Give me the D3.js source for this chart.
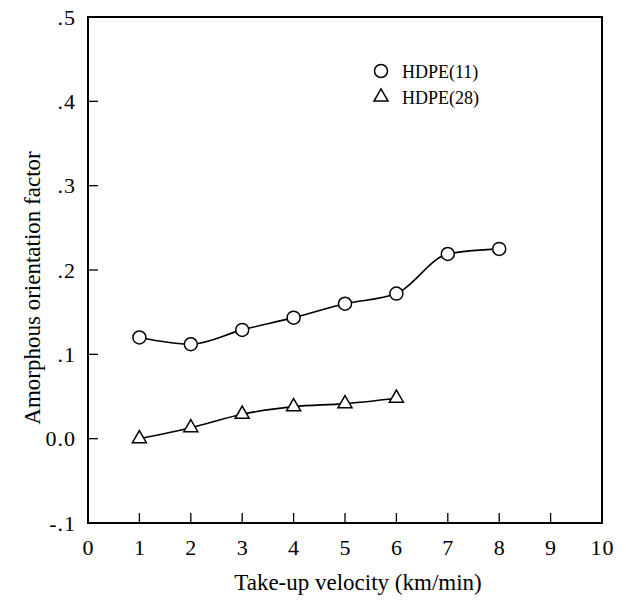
<!DOCTYPE html>
<html>
<head>
<meta charset="utf-8">
<script src="https://cdn.jsdelivr.net/npm/d3@7"></script>
<style>
  body { margin: 0; background: #fff; }
  svg text { font-family: "Liberation Serif", "DejaVu Serif", serif; fill: #000; }
</style>
</head>
<body>
<div id="chart"></div>
<script>
var velocity11 = [1, 2, 3, 4, 5, 6, 7, 8];
var factor11 = [0.120, 0.112, 0.129, 0.1435, 0.160, 0.172, 0.219, 0.225];
var velocity28 = [1, 2, 3, 4, 5, 6];
var factor28 = [0.000, 0.013, 0.029, 0.038, 0.0415, 0.048];
var xTicks = [0, 1, 2, 3, 4, 5, 6, 7, 8, 9, 10];
var yTicks = [-0.1, 0.0, 0.1, 0.2, 0.3, 0.4, 0.5];
var yTickLabels = ["-.1", "0.0", ".1", ".2", ".3", ".4", ".5"];

(function() {
var width = 626, height = 601;
var plotLeft = 88, plotRight = 602, plotTop = 17, plotBottom = 523;

var svg = d3.select("#chart").append("svg")
    .attr("width", width)
    .attr("height", height);

var xScale = d3.scaleLinear().domain([0, 10]).range([plotLeft, plotRight]);
var yScale = d3.scaleLinear().domain([-0.1, 0.5]).range([plotBottom, plotTop]);

// frame
svg.append("rect")
    .attr("x", plotLeft).attr("y", plotTop)
    .attr("width", plotRight - plotLeft).attr("height", plotBottom - plotTop)
    .attr("fill", "none").attr("stroke", "#000").attr("stroke-width", 2);

// x ticks (inward) and labels
var xAxis = d3.axisBottom(xScale).tickValues(xTicks).tickSize(0).tickPadding(16)
    .tickFormat(d3.format("d"));
var gx = svg.append("g").attr("transform", "translate(0," + plotBottom + ")").call(xAxis);
gx.select(".domain").remove();
gx.selectAll("text").style("font-size", "22px").style("letter-spacing", "1px").attr("font-family", null);
svg.selectAll(".xtick").data(xTicks.filter(function(d) { return d > 0 && d < 10; }))
    .enter().append("line")
    .attr("x1", function(d) { return xScale(d); })
    .attr("x2", function(d) { return xScale(d); })
    .attr("y1", plotBottom).attr("y2", plotBottom - 10)
    .attr("stroke", "#000").attr("stroke-width", 1.3);

// y ticks (inward) and labels
var yAxis = d3.axisLeft(yScale).tickValues(yTicks).tickSize(0).tickPadding(12)
    .tickFormat(function(d, i) { return yTickLabels[i]; });
var gy = svg.append("g").attr("transform", "translate(" + plotLeft + ",0)").call(yAxis);
gy.select(".domain").remove();
gy.selectAll("text").style("font-size", "22px").style("letter-spacing", "1px").attr("font-family", null);
svg.selectAll(".ytick").data(yTicks.filter(function(d) { return d > -0.05 && d < 0.45; }))
    .enter().append("line")
    .attr("x1", plotLeft).attr("x2", plotLeft + 10)
    .attr("y1", function(d) { return yScale(d); })
    .attr("y2", function(d) { return yScale(d); })
    .attr("stroke", "#000").attr("stroke-width", 1.3);

// axis titles
svg.append("text")
    .attr("x", 358).attr("y", 590)
    .style("text-anchor", "middle").style("font-size", "23px")
    .text("Take-up velocity (km/min)");
svg.append("text")
    .attr("transform", "translate(40,288) rotate(-90)")
    .style("text-anchor", "middle").style("font-size", "23px")
    .text("Amorphous orientation factor");

var line = d3.line()
    .x(function(d) { return xScale(d[0]); })
    .y(function(d) { return yScale(d[1]); })
    .curve(d3.curveMonotoneX);

var data11 = velocity11.map(function(v, i) { return [v, factor11[i]]; });
var data28 = velocity28.map(function(v, i) { return [v, factor28[i]]; });

svg.append("path").attr("d", line(data11))
    .attr("fill", "none").attr("stroke", "#000").attr("stroke-width", 1.6);
svg.append("path").attr("d", line(data28))
    .attr("fill", "none").attr("stroke", "#000").attr("stroke-width", 1.6);

var triangle = d3.symbol().type(d3.symbolTriangle).size(85);

svg.selectAll(".c11").data(data11).enter().append("circle")
    .attr("cx", function(d) { return xScale(d[0]); })
    .attr("cy", function(d) { return yScale(d[1]); })
    .attr("r", 6.5)
    .attr("fill", "#fff").attr("stroke", "#000").attr("stroke-width", 1.5);

svg.selectAll(".t28").data(data28).enter().append("path")
    .attr("d", triangle)
    .attr("transform", function(d) { return "translate(" + xScale(d[0]) + "," + yScale(d[1]) + ")"; })
    .attr("fill", "#fff").attr("stroke", "#000").attr("stroke-width", 1.5);

// legend
svg.append("circle").attr("cx", 381).attr("cy", 71).attr("r", 6.5)
    .attr("fill", "#fff").attr("stroke", "#000").attr("stroke-width", 1.5);
svg.append("text").attr("x", 402).attr("y", 78).style("font-size", "18px").text("HDPE(11)");
svg.append("path").attr("d", triangle).attr("transform", "translate(381,97)")
    .attr("fill", "#fff").attr("stroke", "#000").attr("stroke-width", 1.5);
svg.append("text").attr("x", 402).attr("y", 104).style("font-size", "18px").text("HDPE(28)");
})();
</script>
</body>
</html>
